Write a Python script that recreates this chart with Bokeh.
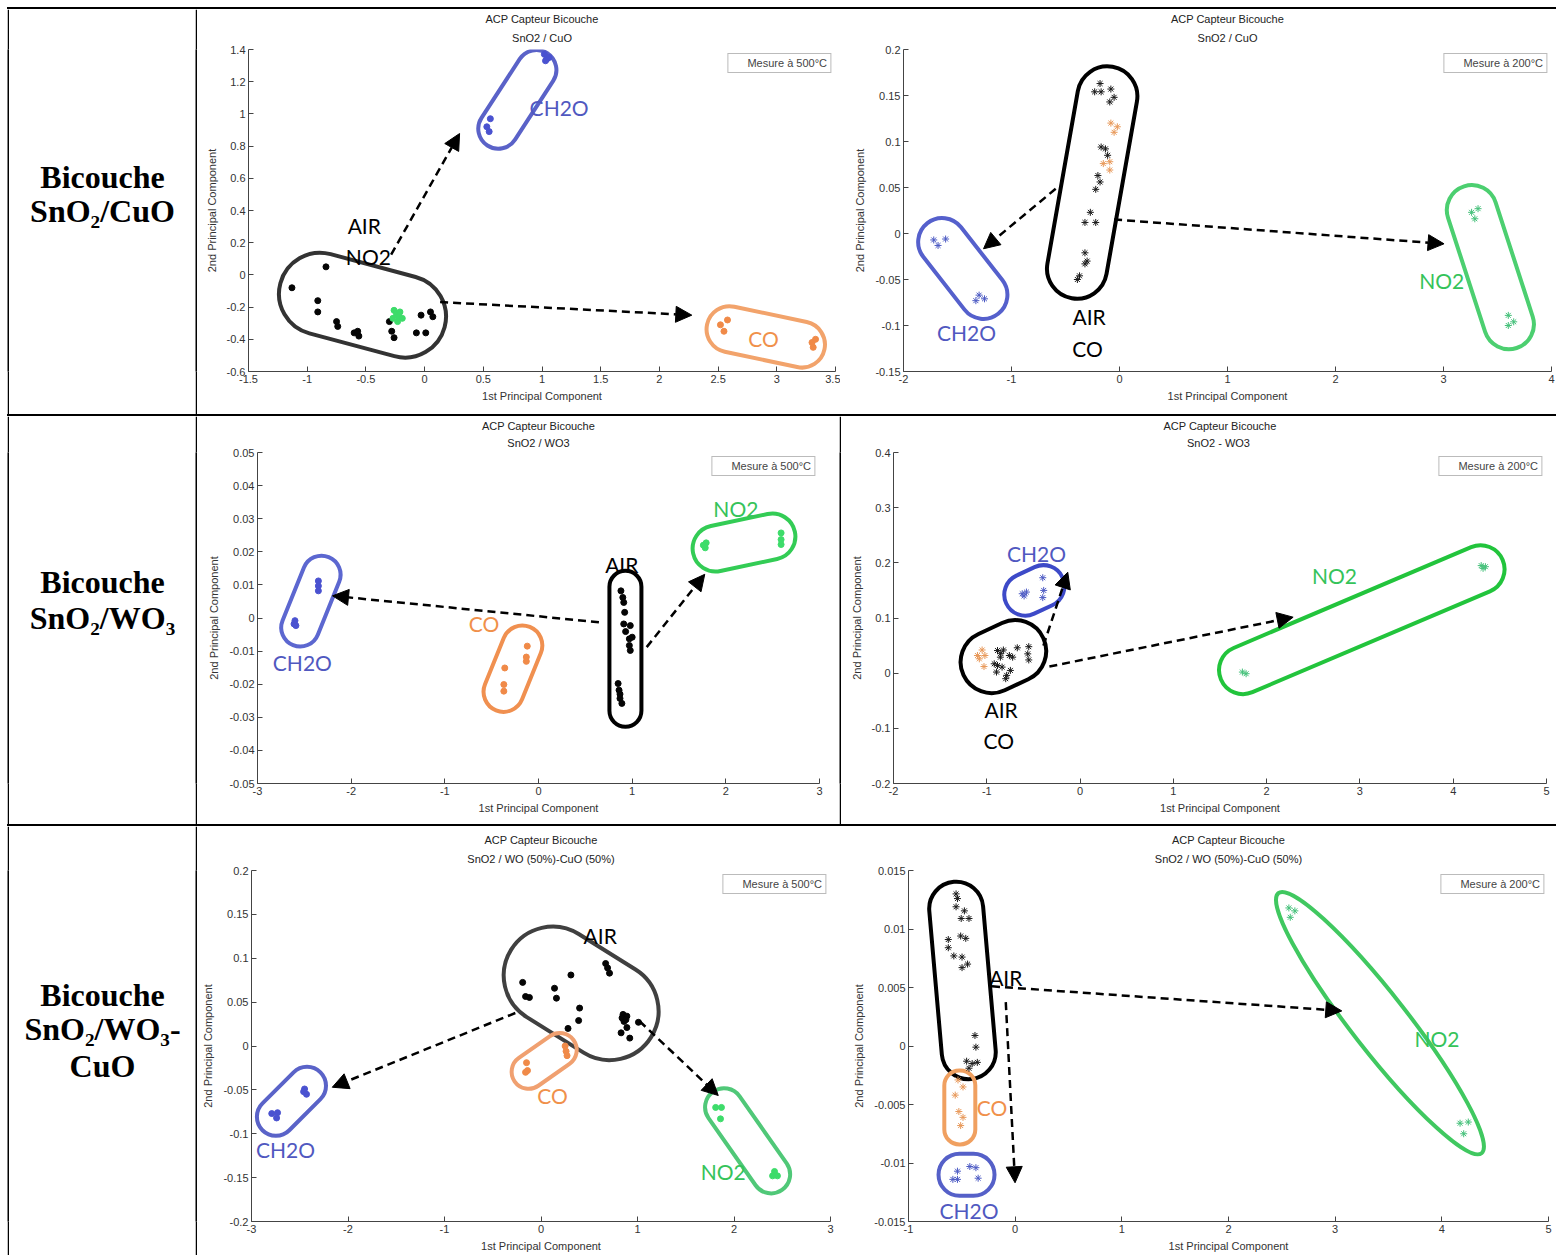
import math
from bokeh.plotting import figure
from bokeh.layouts import row, column
from bokeh.models import (ColumnDataSource, FixedTicker, Arrow, NormalHead,
                          Legend, LegendItem, Title, Spacer)
from bokeh.core.properties import value
from bokeh.embed import file_html
from bokeh.resources import INLINE

# ============================ DATA ============================
ROW_LABELS = [["Bicouche", "SnO\u2082/CuO"],
              ["Bicouche", "SnO\u2082/WO\u2083"],
              ["Bicouche", "SnO\u2082/WO\u2083-", "CuO"]]
MAIN_TITLE = "ACP Capteur Bicouche"
SUBTITLES = ["SnO2 / CuO", "SnO2 / CuO", "SnO2 / WO3", "SnO2  - WO3",
             "SnO2 / WO (50%)-CuO (50%)", "SnO2 / WO (50%)-CuO (50%)"]
LEGEND_TEXT = ["Mesure à 500°C", "Mesure à 200°C", "Mesure à 500°C",
               "Mesure à 200°C", "Mesure à 500°C", "Mesure à 200°C"]
X_LABEL = "1st Principal Component"
Y_LABEL = "2nd Principal Component"

P1_XTICKS = [-1.5, -1, -0.5, 0, 0.5, 1, 1.5, 2, 2.5, 3, 3.5]
P1_YTICKS = [-0.6, -0.4, -0.2, 0, 0.2, 0.4, 0.6, 0.8, 1, 1.2, 1.4]
P2_XTICKS = [-2, -1, 0, 1, 2, 3, 4]
P2_YTICKS = [-0.15, -0.1, -0.05, 0, 0.05, 0.1, 0.15, 0.2]
P3_XTICKS = [-3, -2, -1, 0, 1, 2, 3]
P3_YTICKS = [-0.05, -0.04, -0.03, -0.02, -0.01, 0, 0.01, 0.02, 0.03, 0.04, 0.05]
P4_XTICKS = [-2, -1, 0, 1, 2, 3, 4, 5]
P4_YTICKS = [-0.2, -0.1, 0, 0.1, 0.2, 0.3, 0.4]
P5_XTICKS = [-3, -2, -1, 0, 1, 2, 3]
P5_YTICKS = [-0.2, -0.15, -0.1, -0.05, 0, 0.05, 0.1, 0.15, 0.2]
P6_XTICKS = [-1, 0, 1, 2, 3, 4, 5]
P6_YTICKS = [-0.015, -0.01, -0.005, 0, 0.005, 0.01, 0.015]

# ---- Panel 1 : SnO2/CuO 500°C
P1_AIR_X = [-1.13, -0.84, -0.91, -0.91, -0.75, -0.74, -0.60, -0.57, -0.56, -0.30, -0.28, -0.26, -0.03, 0.05, 0.07, -0.07, 0.01]
P1_AIR_Y = [-0.08, 0.05, -0.16, -0.23, -0.29, -0.32, -0.36, -0.35, -0.38, -0.29, -0.35, -0.39, -0.25, -0.23, -0.26, -0.36, -0.36]
P1_NO2_X = [-0.26, -0.24, -0.22, -0.19, -0.23, -0.27, -0.21]
P1_NO2_Y = [-0.22, -0.24, -0.26, -0.27, -0.29, -0.27, -0.23]
P1_CH2O_X = [1.02, 1.04, 1.06, 1.03, 0.56, 0.53, 0.55]
P1_CH2O_Y = [1.37, 1.34, 1.35, 1.33, 0.97, 0.92, 0.89]
P1_CO_X = [2.52, 2.58, 2.55, 3.30, 3.33, 3.31]
P1_CO_Y = [-0.31, -0.28, -0.35, -0.42, -0.40, -0.45]

# ---- Panel 2 : SnO2/CuO 200°C
P2_AIR_X = [-0.18, -0.23, -0.17, -0.08, -0.05, -0.09, -0.17, -0.13, -0.11, -0.20, -0.18, -0.22, -0.27, -0.32, -0.22, -0.32, -0.30, -0.32, -0.37, -0.39]
P2_AIR_Y = [0.163, 0.154, 0.154, 0.157, 0.148, 0.143, 0.094, 0.092, 0.085, 0.063, 0.056, 0.048, 0.023, 0.012, 0.012, -0.021, -0.030, -0.033, -0.046, -0.050]
P2_CO_X = [-0.08, -0.02, -0.05, -0.15, -0.09, -0.09]
P2_CO_Y = [0.120, 0.116, 0.110, 0.076, 0.078, 0.069]
P2_CH2O_X = [-1.72, -1.68, -1.61, -1.33, -1.30, -1.25]
P2_CH2O_Y = [-0.007, -0.013, -0.006, -0.073, -0.067, -0.071]
P2_NO2_X = [3.26, 3.32, 3.29, 3.60, 3.65, 3.60]
P2_NO2_Y = [0.023, 0.027, 0.016, -0.089, -0.096, -0.100]

# ---- Panel 3 : SnO2/WO3 500°C
P3_CH2O_X = [-2.35, -2.35, -2.35, -2.60, -2.61, -2.59]
P3_CH2O_Y = [0.0112, 0.0097, 0.0082, -0.0008, -0.0018, -0.0023]
P3_CO_X = [-0.12, -0.13, -0.13, -0.36, -0.37, -0.37]
P3_CO_Y = [-0.0085, -0.0118, -0.0131, -0.0151, -0.0201, -0.0221]
P3_AIR_X = [0.88, 0.90, 0.91, 0.92, 0.91, 0.98, 0.93, 0.97, 1.00, 0.97, 0.98, 0.85, 0.86, 0.87, 0.89, 0.87]
P3_AIR_Y = [0.0082, 0.0062, 0.0047, 0.0017, -0.0018, -0.0023, -0.0041, -0.0063, -0.0058, -0.0083, -0.0098, -0.0198, -0.0218, -0.0243, -0.0258, -0.0230]
P3_NO2_X = [1.79, 1.78, 1.76, 2.59, 2.59, 2.59]
P3_NO2_Y = [0.0227, 0.0212, 0.0220, 0.0257, 0.0237, 0.0222]

# ---- Panel 4 : SnO2-WO3 200°C
P4_CO_X = [-1.05, -1.02, -1.08, -1.03, -1.10]
P4_CO_Y = [0.042, 0.032, 0.026, 0.012, 0.032]
P4_AIR_X = [-0.885, -0.822, -0.758, -0.854, -0.885, -0.836, -0.896, -0.747, -0.787, -0.797, -0.673, -0.55, -0.561, -0.55, -0.92, -0.85, -0.723]
P4_AIR_Y = [0.041, 0.042, 0.032, 0.029, 0.014, 0.011, 0.002, 0.005, -0.004, -0.010, 0.046, 0.048, 0.035, 0.024, 0.017, 0.036, 0.029]
P4_CH2O_X = [-0.62, -0.575, -0.40, -0.39, -0.40, -0.60]
P4_CH2O_Y = [0.144, 0.147, 0.173, 0.150, 0.137, 0.140]
P4_NO2_X = [1.74, 1.78, 4.30, 4.345, 4.32]
P4_NO2_Y = [0.002, -0.001, 0.195, 0.193, 0.190]

# ---- Panel 5 : SnO2/WO-CuO 500°C
P5_AIR_X = [-0.19, -0.16, -0.12, 0.14, 0.16, 0.31, 0.40, 0.39, 0.28, 0.67, 0.69, 0.71, 0.85, 0.89, 0.86, 0.83, 0.89, 0.92, 1.01, 0.84, 0.88]
P5_AIR_Y = [0.0725, 0.0564, 0.0553, 0.0658, 0.0545, 0.0809, 0.0432, 0.029, 0.020, 0.094, 0.089, 0.083, 0.036, 0.034, 0.028, 0.015, 0.021, 0.009, 0.027, 0.032, 0.030]
P5_CO_X = [0.25, 0.26, 0.27, -0.15, -0.14, -0.16]
P5_CO_Y = [0.000, -0.006, -0.011, -0.019, -0.028, -0.030]
P5_CH2O_X = [-2.45, -2.43, -2.46, -2.79, -2.73, -2.74]
P5_CH2O_Y = [-0.049, -0.055, -0.052, -0.077, -0.076, -0.082]
P5_NO2_X = [1.81, 1.87, 1.86, 2.42, 2.45, 2.40]
P5_NO2_Y = [-0.070, -0.070, -0.083, -0.143, -0.148, -0.148]

# ---- Panel 6 : SnO2/WO-CuO 200°C
P6_AIR_X = [-0.554, -0.541, -0.554, -0.476, -0.506, -0.433, -0.627, -0.511, -0.463, -0.627, -0.575, -0.498, -0.446, -0.498, -0.377, -0.368, -0.455, -0.403, -0.355, -0.433]
P6_AIR_Y = [0.0130, 0.0126, 0.0119, 0.01155, 0.0109, 0.0109, 0.0091, 0.0094, 0.0092, 0.0084, 0.0077, 0.0076, 0.0070, 0.0067, 0.0009, -0.0001, -0.0013, -0.0015, -0.0014, -0.0019]
P6_CO_X = [-0.536, -0.489, -0.562, -0.528, -0.489, -0.511]
P6_CO_Y = [-0.0029, -0.0035, -0.0042, -0.0056, -0.0061, -0.0068]
P6_CH2O_X = [-0.425, -0.368, -0.541, -0.584, -0.541, -0.347]
P6_CH2O_Y = [-0.0103, -0.0104, -0.0107, -0.0114, -0.0114, -0.0113]
P6_NO2_X = [2.566, 2.622, 2.579, 4.171, 4.248, 4.205]
P6_NO2_Y = [0.0118, 0.01155, 0.0110, -0.0066, -0.0065, -0.0075]

# ---- group labels (text, x, y) in data units
P1_LABELS = [("AIR", -0.514, 0.309), ("NO2", -0.479, 0.116), ("CH2O", 1.146, 1.04), ("CO", 2.887, -0.393)]
P2_LABELS = [("AIR", -0.282, -0.0902), ("CO", -0.295, -0.1253), ("CH2O", -1.416, -0.1073), ("NO2", 2.983, -0.0511)]
P3_LABELS = [("NO2", 2.107, 0.0332), ("AIR", 0.889, 0.0162), ("CO", -0.581, -0.0018), ("CH2O", -2.521, -0.0135)]
P4_LABELS = [("CH2O", -0.467, 0.2177), ("NO2", 2.727, 0.177), ("AIR", -0.847, -0.065), ("CO", -0.872, -0.122)]
P5_LABELS = [("AIR", 0.614, 0.126), ("CO", 0.12, -0.0564), ("CH2O", -2.648, -0.1185), ("NO2", 1.888, -0.143)]
P6_LABELS = [("AIR", -0.088, 0.00582), ("CO", -0.217, -0.00528), ("CH2O", -0.433, -0.0141), ("NO2", 3.955, 0.0006)]

# ---- arrows (x0, y0, x1, y1) in data units
P1_ARROWS = [(-0.285, 0.126, 0.298, 0.878), (0.132, -0.169, 2.276, -0.25)]
P2_ARROWS = [(-0.591, 0.0486, -1.259, -0.0166), (-0.05, 0.0152, 3.005, -0.0112)]
P3_ARROWS = [(0.645, -0.0013, -2.199, 0.0067), (1.155, -0.0088, 1.775, 0.0132)]
P4_ARROWS = [(-0.329, 0.012, 2.284, 0.1015), (-0.393, 0.05, -0.132, 0.183)]
P5_ARROWS = [(-0.266, 0.0376, -2.163, -0.047), (1.022, 0.0282, 1.837, -0.0564)]
P6_ARROWS = [(-0.217, 0.0051, 3.062, 0.003), (-0.088, 0.00375, -0.001, -0.01169)]

# ---- group rings: centre (data units)
P1_RING_CENTERS = [(-0.529, -0.188), (0.79, 1.09), (2.906, -0.385)]
P2_RING_CENTERS = [(-0.253, 0.0554), (-1.451, -0.038), (3.434, -0.0366)]
P3_RING_CENTERS = [(-2.43, 0.0051), (-0.273, -0.0153), (0.928, -0.0093), (2.194, 0.0228)]
P4_RING_CENTERS = [(-0.822, 0.03), (-0.49, 0.15), (3.02, 0.097)]
P5_RING_CENTERS = [(0.416, 0.06), (0.033, -0.017), (-2.586, -0.063), (2.141, -0.108)]
P6_RING_CENTERS = [(-0.494, 0.0056), (-0.519, -0.00525), (-0.456, -0.011), (3.42, 0.00195)]

# ============================ STYLE ============================
SANS = "Liberation Sans"
SERIF = "Liberation Serif"
LABEL_FONT = "Lato"

DOT_COL = {"AIR": "#050505", "NO2": "#3ddc6a", "CH2O": "#4a52d0", "CO": "#f08a48"}
AST_COL = {"AIR": "#1a1a1a", "NO2": "#45c17a", "CH2O": "#4d5bc4", "CO": "#e8995a"}
TXT_COL = {"AIR": "#000000", "NO2": "#35c35a", "CH2O": "#5058c0", "CO": "#f0904a"}

# ring geometry: (length px, width px, angle deg, colour, shape)
P1_RING_GEOM = [(170, 82, -15, "#333333", "s"), (110, 40, 57, "#5a62c8", "s"), (120, 46, -12, "#f2a36b", "s")]
P2_RING_GEOM = [(235, 60, 80, "#000000", "s"), (115, 48, -52, "#5560cc", "s"), (170, 50, -72, "#4ccf70", "s")]
P3_RING_GEOM = [(95, 38, 68, "#5c67d0", "s"), (90, 40, 68, "#f09050", "s"), (156, 32, 90, "#000000", "s"), (104, 46, 12, "#33cc55", "s")]
P4_RING_GEOM = [(88, 62, 25, "#000000", "s"), (62, 42, 25, "#3d4ac8", "s"), (306, 48, 23, "#22c43c", "s")]
P5_RING_GEOM = [(165, 98, -32, "#404040", "s"), (72, 34, 35, "#f0a070", "s"), (82, 38, 45, "#5a63c8", "s"), (120, 38, -55, "#50c878", "s")]
P6_RING_GEOM = [(198, 54, -85, "#000000", "s"), (74, 31, 90, "#f0a060", "s"), (56, 42, 0, "#5560c8", "s"), (330, 56, -52, "#40c860", "e")]

P1_LABEL_COL = ["#000000", "#000000", TXT_COL["CH2O"], TXT_COL["CO"]]
P2_LABEL_COL = ["#000000", "#000000", TXT_COL["CH2O"], TXT_COL["NO2"]]
P3_LABEL_COL = [TXT_COL["NO2"], "#000000", TXT_COL["CO"], TXT_COL["CH2O"]]
P4_LABEL_COL = [TXT_COL["CH2O"], TXT_COL["NO2"], "#000000", "#000000"]
P5_LABEL_COL = ["#000000", TXT_COL["CO"], TXT_COL["CH2O"], TXT_COL["NO2"]]
P6_LABEL_COL = ["#000000", TXT_COL["CO"], TXT_COL["CH2O"], TXT_COL["NO2"]]


def vbar(h):
    f = figure(width=2, height=h, toolbar_location=None, output_backend="svg",
               min_border=0, x_axis_type=None, y_axis_type=None, title=None,
               background_fill_color="black", border_fill_color="black",
               outline_line_color=None, x_range=(0, 1), y_range=(0, 1))
    f.grid.visible = False
    return f


def hbar(w):
    return Spacer(width=w, height=2, styles={"background-color": "black"})


def label_cell(w, h, lines, ys):
    f = figure(width=w, height=h, toolbar_location=None, output_backend="svg",
               min_border=0, x_axis_type=None, y_axis_type=None, title=None,
               outline_line_color=None, x_range=(0, 1), y_range=(0, 1))
    f.grid.visible = False
    f.text(x=[0.5] * len(lines), y=ys, text=lines, text_align="center",
           text_baseline="middle", text_font=value(SERIF), text_font_style="bold",
           text_font_size="32px", text_color="black")
    return f


def panel(w, h, borders, xticks, yticks, subtitle, legend_text, series, marker,
          ring_centers, ring_geom, arrows, labels, label_cols, sub_standoff=11):
    L, R, T, B = borders
    p = figure(width=w, height=h, toolbar_location=None, output_backend="svg",
               x_range=(xticks[0], xticks[-1]), y_range=(yticks[0], yticks[-1]),
               min_border_left=L, min_border_right=R, min_border_top=T,
               min_border_bottom=B, title=None, outline_line_color=None)
    p.grid.visible = False
    p.add_layout(Title(text=subtitle, align="center", text_font=SANS,
                       text_font_size="11px", text_font_style="normal",
                       text_color="#222222", standoff=sub_standoff), "above")
    p.add_layout(Title(text=MAIN_TITLE, align="center", text_font=SANS,
                       text_font_size="11px", text_font_style="normal",
                       text_color="#222222", standoff=0), "above")
    for ax in p.axis:
        ax.major_tick_in = 5
        ax.major_tick_out = 0
        ax.minor_tick_line_color = None
        ax.axis_line_color = "#444444"
        ax.major_tick_line_color = "#444444"
        ax.major_label_text_font = SANS
        ax.major_label_text_font_size = "11px"
        ax.major_label_text_color = "#333333"
        ax.axis_label_text_font = SANS
        ax.axis_label_text_font_size = "11px"
        ax.axis_label_text_font_style = "normal"
        ax.axis_label_text_color = "#333333"
    p.xaxis.ticker = FixedTicker(ticks=xticks)
    p.yaxis.ticker = FixedTicker(ticks=yticks)
    p.xaxis.major_label_overrides = {t: f"{t:g}" for t in xticks}
    p.yaxis.major_label_overrides = {t: f"{t:g}" for t in yticks}
    p.xaxis.axis_label = X_LABEL
    p.yaxis.axis_label = Y_LABEL
    p.xaxis.major_label_standoff = 3
    p.xaxis.axis_label_standoff = 4
    p.yaxis.major_label_standoff = 3
    p.yaxis.axis_label_standoff = 6

    for (cx, cy), (ln, wd, ang, col, shape) in zip(ring_centers, ring_geom):
        if shape == "e":
            p.ellipse(x=[cx], y=[cy], width=[ln], height=[wd], angle=[ang],
                      angle_units="deg", width_units="screen", height_units="screen",
                      fill_color=None, line_color=col, line_width=4)
        else:
            p.rect(x=[cx], y=[cy], width=[ln], height=[wd], angle=[ang],
                   angle_units="deg", width_units="screen", height_units="screen",
                   border_radius=wd // 2, fill_color=None, line_color=col, line_width=4)

    for gas, xs, ys in series:
        if marker == "dot":
            p.scatter(x=xs, y=ys, marker="circle", size=6, fill_color=DOT_COL[gas],
                      line_color=DOT_COL[gas])
        else:
            p.scatter(x=xs, y=ys, marker="asterisk", size=7, line_color=AST_COL[gas],
                      line_width=1)

    src = ColumnDataSource(dict(x0=[a[0] for a in arrows], y0=[a[1] for a in arrows],
                                x1=[a[2] for a in arrows], y1=[a[3] for a in arrows]))
    p.add_layout(Arrow(end=NormalHead(size=16, fill_color="black", line_color="black"),
                       x_start="x0", y_start="y0", x_end="x1", y_end="y1", source=src,
                       line_color="black", line_width=2.5, line_dash="8 5"))

    p.text(x=[l[1] for l in labels], y=[l[2] for l in labels], text=[l[0] for l in labels],
           text_color=label_cols, text_align="center", text_baseline="middle",
           text_font=value(LABEL_FONT), text_font_size="21px")

    r = p.scatter(x=[], y=[], alpha=0)
    leg = Legend(items=[LegendItem(label=legend_text, renderers=[r])], location="top_right",
                 margin=4, padding=3, spacing=0, label_standoff=2, glyph_width=14,
                 glyph_height=12, label_height=12, label_text_font=SANS,
                 label_text_font_size="11px", border_line_color="#777777",
                 border_line_width=1, background_fill_alpha=1.0)
    p.add_layout(leg)
    return p


# ============================ BUILD ============================
p1 = panel(643, 405, (51, 5, 39, 38), P1_XTICKS, P1_YTICKS, SUBTITLES[0], LEGEND_TEXT[0],
           [("AIR", P1_AIR_X, P1_AIR_Y), ("NO2", P1_NO2_X, P1_NO2_Y),
            ("CH2O", P1_CH2O_X, P1_CH2O_Y), ("CO", P1_CO_X, P1_CO_Y)], "dot",
           P1_RING_CENTERS, P1_RING_GEOM, P1_ARROWS, P1_LABELS, P1_LABEL_COL)
p2 = panel(716, 405, (63, 5, 40, 43), P2_XTICKS, P2_YTICKS, SUBTITLES[1], LEGEND_TEXT[1],
           [("AIR", P2_AIR_X, P2_AIR_Y), ("CO", P2_CO_X, P2_CO_Y),
            ("CH2O", P2_CH2O_X, P2_CH2O_Y), ("NO2", P2_NO2_X, P2_NO2_Y)], "ast",
           P2_RING_CENTERS, P2_RING_GEOM, P2_ARROWS, P2_LABELS, P2_LABEL_COL)
p3 = panel(642, 408, (60, 20, 36, 38), P3_XTICKS, P3_YTICKS, SUBTITLES[2], LEGEND_TEXT[2],
           [("CH2O", P3_CH2O_X, P3_CH2O_Y), ("CO", P3_CO_X, P3_CO_Y),
            ("AIR", P3_AIR_X, P3_AIR_Y), ("NO2", P3_NO2_X, P3_NO2_Y)], "dot",
           P3_RING_CENTERS, P3_RING_GEOM, P3_ARROWS, P3_LABELS, P3_LABEL_COL, sub_standoff=7)
p4 = panel(715, 408, (52, 10, 36, 41), P4_XTICKS, P4_YTICKS, SUBTITLES[3], LEGEND_TEXT[3],
           [("CO", P4_CO_X, P4_CO_Y), ("AIR", P4_AIR_X, P4_AIR_Y),
            ("CH2O", P4_CH2O_X, P4_CH2O_Y), ("NO2", P4_NO2_X, P4_NO2_Y)], "ast",
           P4_RING_CENTERS, P4_RING_GEOM, P4_ARROWS, P4_LABELS, P4_LABEL_COL, sub_standoff=7)
p5 = panel(643, 429, (54, 10, 42, 34), P5_XTICKS, P5_YTICKS, SUBTITLES[4], LEGEND_TEXT[4],
           [("AIR", P5_AIR_X, P5_AIR_Y), ("CO", P5_CO_X, P5_CO_Y),
            ("CH2O", P5_CH2O_X, P5_CH2O_Y), ("NO2", P5_NO2_X, P5_NO2_Y)], "dot",
           P5_RING_CENTERS, P5_RING_GEOM, P5_ARROWS, P5_LABELS, P5_LABEL_COL)
p6 = panel(716, 429, (68, 8, 44, 34), P6_XTICKS, P6_YTICKS, SUBTITLES[5], LEGEND_TEXT[5],
           [("AIR", P6_AIR_X, P6_AIR_Y), ("CO", P6_CO_X, P6_CO_Y),
            ("CH2O", P6_CH2O_X, P6_CH2O_Y), ("NO2", P6_NO2_X, P6_NO2_Y)], "ast",
           P6_RING_CENTERS, P6_RING_GEOM, P6_ARROWS, P6_LABELS, P6_LABEL_COL)

lab1 = label_cell(186, 405, ROW_LABELS[0], [0.605, 0.499])
lab2 = label_cell(186, 408, ROW_LABELS[1], [0.608, 0.500])
lab3 = label_cell(186, 429, ROW_LABELS[2], [0.646, 0.548, 0.443])

layout = column(
    Spacer(width=1556, height=7),
    row(Spacer(width=7, height=2), hbar(1549)),
    row(Spacer(width=7, height=405), vbar(405), lab1, vbar(405), p1, p2),
    row(Spacer(width=7, height=2), hbar(1549)),
    row(Spacer(width=7, height=408), vbar(408), lab2, vbar(408), p3, vbar(408), p4),
    row(Spacer(width=7, height=2), hbar(1549)),
    row(Spacer(width=7, height=429), vbar(429), lab3, vbar(429), p5, p6),
)

with open("out.html", "w") as fh:
    fh.write(file_html(layout, INLINE))
